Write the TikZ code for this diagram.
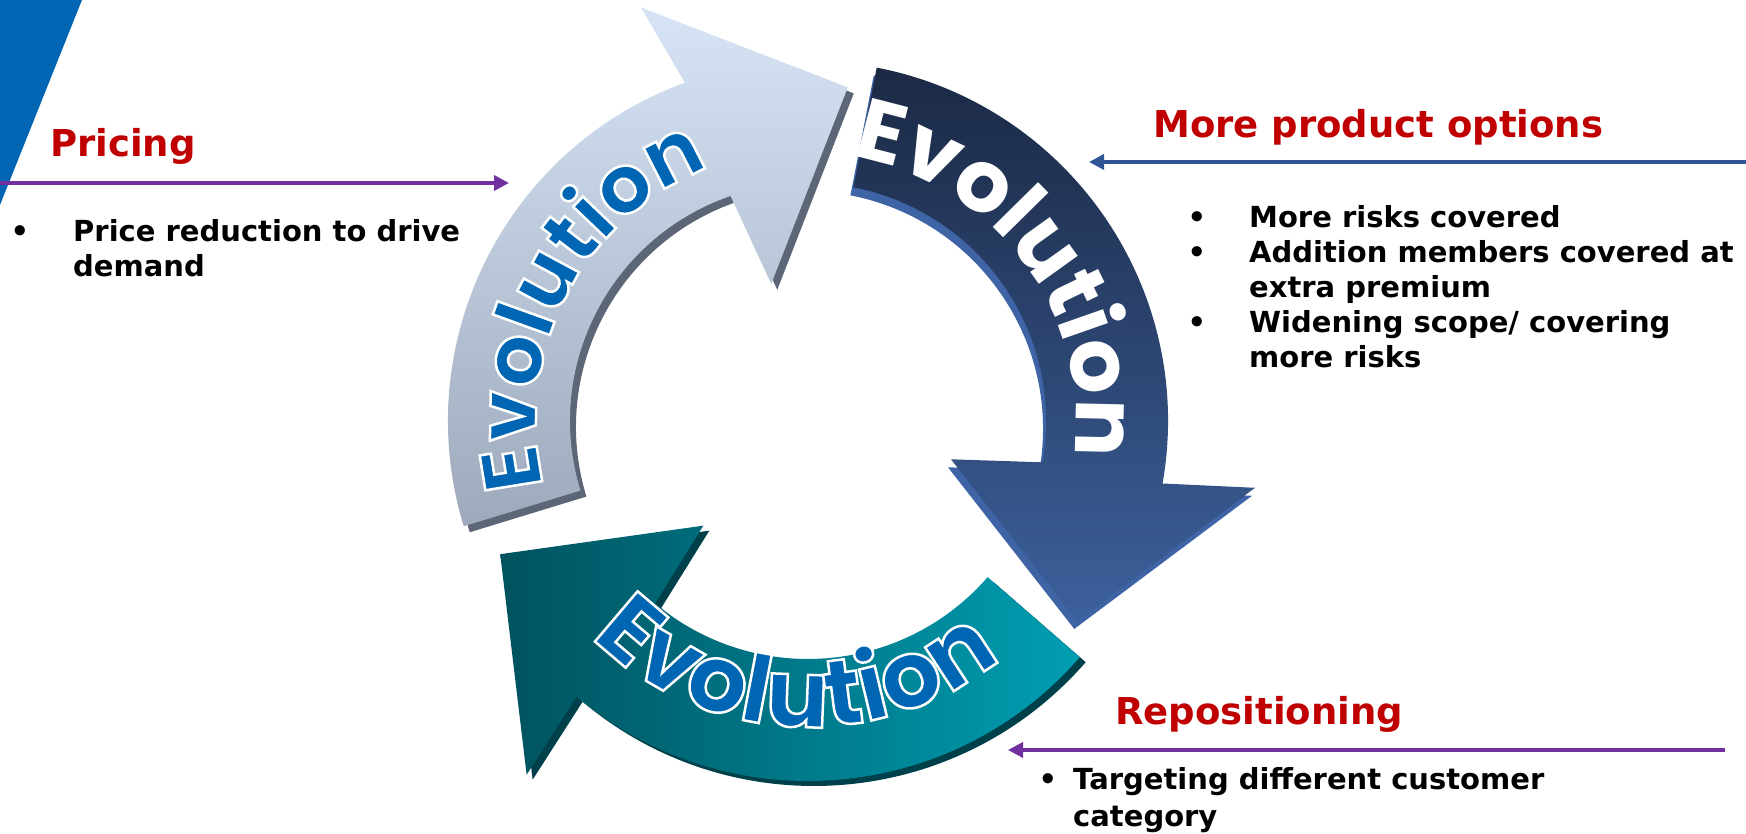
\documentclass[tikz,border=0pt]{standalone}
\usepackage{fontspec}
\setmainfont{DejaVu Sans}
\newfontfamily\evofont{Poppins}
\usetikzlibrary{arrows.meta,decorations.text}

\definecolor{headred}{RGB}{192,0,0}
\definecolor{leadpurple}{RGB}{112,48,160}
\definecolor{leadblue}{RGB}{47,85,151}
\definecolor{evoblue}{RGB}{0,102,179}
\definecolor{palesky}{RGB}{214,228,246}
\definecolor{palegrey}{RGB}{158,170,188}
\definecolor{paleshadow}{RGB}{92,102,118}
\definecolor{navytop}{RGB}{27,41,68}
\definecolor{navybot}{RGB}{60,96,156}
\definecolor{navyshadow}{RGB}{62,100,165}
\definecolor{tealdark}{RGB}{0,82,94}
\definecolor{teallight}{RGB}{0,158,178}
\definecolor{tealshadow}{RGB}{0,64,74}

% white rim round the blue letters
\newcommand{\rimon}{\special{pdf:literal direct 2 Tr 2.5 w 1 1 1 RG}}

\tikzset{
  head/.style={font=\fontsize{37}{44}\selectfont\bfseries, text=headred, inner sep=0pt},
  bul/.style={font=\fontsize{29}{35}\selectfont\bfseries, inner sep=0pt},
  lead/.style={line width=3.5pt, -{Triangle[length=15pt,width=15pt]}},
  evotext/.style n args={3}{decorate,decoration={text along path,text align=center,text color=#1,
    text={|\evofont\bfseries\fontsize{#2}{#2}\selectfont#3|Evolution}}},
}

\begin{document}
\begin{tikzpicture}[x=1pt,y=1pt]
  \useasboundingbox (0,0) rectangle (1746,834);
  \fill[evoblue] (0,834) -- (82,834) -- (0,629) -- cycle;

  \begin{scope}[shift={(808,413)}]
    % shadows
    \fill[paleshadow,shift={(6,-6)}] (197:360) arc[start angle=197,end angle=110,radius=360]
      -- (112:446) -- (83.2:336) -- (105:142) -- (109:238)
      arc[start angle=109,end angle=197,radius=238] -- cycle;
    \fill[navyshadow,shift={(-3,-8)}] (79:360) arc[start angle=79,end angle=-10,radius=360]
      -- (-8.5:452) -- (-36.6:335.4) -- (-15:148) -- (-10:238)
      arc[start angle=-10,end angle=79,radius=238] -- cycle;
    \fill[tealshadow,shift={(6,-5)}] (-41:360) arc[start angle=-41,end angle=-130,radius=360]
      -- (-128.5:452) -- (-156.6:335.4) -- (-135:148) -- (-130:238)
      arc[start angle=-130,end angle=-41,radius=238] -- cycle;
    % arrows
    \shade[top color=palesky,bottom color=palegrey] (197:360) arc[start angle=197,end angle=110,radius=360]
      -- (112:446) -- (83.2:336) -- (105:142) -- (109:238)
      arc[start angle=109,end angle=197,radius=238] -- cycle;
    \shade[top color=navytop,bottom color=navybot] (79:360) arc[start angle=79,end angle=-10,radius=360]
      -- (-8.5:452) -- (-36.6:335.4) -- (-15:148) -- (-10:238)
      arc[start angle=-10,end angle=79,radius=238] -- cycle;
    \shade[left color=tealdark,right color=teallight] (-41:360) arc[start angle=-41,end angle=-130,radius=360]
      -- (-128.5:452) -- (-156.6:335.4) -- (-135:148) -- (-130:238)
      arc[start angle=-130,end angle=-41,radius=238] -- cycle;
    % words on the arrows
    \path[evotext={evoblue}{82}{\rimon}] (204:272) arc[start angle=204,end angle=101,radius=272];
    \path[evotext={white}{86}{}] (94:268) arc[start angle=94,end angle=-21,radius=268];
    \path[evotext={evoblue}{94}{\rimon}] (-153:306) arc[start angle=-153,end angle=-33,radius=306];
  \end{scope}

  % pricing
  \node[head,anchor=base west] (pricing) at (50,677) {Pricing};
  \coordinate (pricing-from) at (0,651);
  \coordinate (pricing-to) at (509,651);
  \draw[lead,leadpurple] (pricing-from) -- (pricing-to);
  \node[bul] (pricing-dot) at (20,600) {•};
  \node[bul,anchor=base west] (pricing-l1) at (73,592) {Price reduction to drive};
  \node[bul,anchor=base west] (pricing-l2) at (73,557) {demand};

  % product options
  \node[head,anchor=base west] (options) at (1153,696) {More product options};
  \coordinate (options-from) at (1746,672);
  \coordinate (options-to) at (1089,672);
  \draw[lead,leadblue] (options-from) -- (options-to);
  \node[bul] (options-d1) at (1197,614) {•};
  \node[bul] (options-d2) at (1197,579) {•};
  \node[bul] (options-d3) at (1197,509) {•};
  \node[bul,anchor=base west] (options-l1) at (1249,606) {More risks covered};
  \node[bul,anchor=base west] (options-l2) at (1249,571) {Addition members covered at};
  \node[bul,anchor=base west] (options-l3) at (1249,536) {extra premium};
  \node[bul,anchor=base west] (options-l4) at (1249,501) {Widening scope/ covering};
  \node[bul,anchor=base west] (options-l5) at (1249,466) {more risks};

  % repositioning
  \node[head,anchor=base west] (repos) at (1115,109) {Repositioning};
  \coordinate (repos-from) at (1725,84);
  \coordinate (repos-to) at (1008,84);
  \draw[lead,leadpurple] (repos-from) -- (repos-to);
  \node[bul] (repos-dot) at (1048,52) {•};
  \node[bul,anchor=base west] (repos-l1) at (1073,44) {Targeting different customer};
  \node[bul,anchor=base west] (repos-l2) at (1073,7) {category};
\end{tikzpicture}
\end{document}
